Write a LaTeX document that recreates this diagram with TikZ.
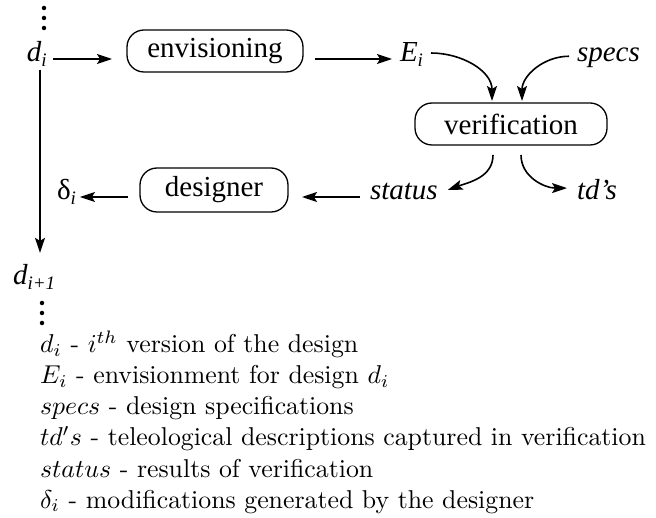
\documentclass[tikz,border=0pt]{standalone}
\usepackage{fontspec}
\newfontfamily\tms{Liberation Serif}
\usetikzlibrary{arrows.meta}
\newcommand{\tsub}[1]{\raisebox{-5pt}{\fontsize{19}{19}\selectfont\itshape #1}}
\newcommand{\lgd}[1]{\scalebox{2.58}{#1}}
\begin{document}
\begin{tikzpicture}[x=1pt,y=1pt,
  every node/.style={inner sep=0pt, outer sep=0pt},
  top/.style={font=\tms\fontsize{29}{32}\selectfont},
  topit/.style={font=\tms\itshape\fontsize{29}{32}\selectfont},
  procbox/.style={draw, line width=1.3pt, rounded corners=17pt, font=\tms\fontsize{29}{32}\selectfont, minimum height=42pt},
  arr/.style={line width=1.6pt, -{Stealth[length=15pt,width=10pt,inset=3pt]}},
  dotnode/.style={circle, fill=black, minimum size=4.5pt},
  legend/.style={anchor=base west}
]
\useasboundingbox (0,0) rectangle (656,-518);

% helper levels
\coordinate (rowA) at (0,-59);
\coordinate (rowB) at (0,-197);
\coordinate (vx) at (40,0);

% top dots
\node[dotnode] (t1) at (44,-8) {};
\node[dotnode] (t2) at (44,-18) {};
\node[dotnode] (t3) at (44,-28) {};

\node[topit, anchor=base west] (di) at (27,-62) {d\tsub{i}};
\node[procbox, minimum width=176pt] (env) at (215,-51) {envisioning};
\node[topit, anchor=base west] (Ei) at (400,-62) {E\tsub{i}};
\node[topit, anchor=base west] (specs) at (577,-62) {specs};
\node[procbox, minimum width=192pt] (ver) at (511,-124) {verification};
\node[topit, anchor=base west] (status) at (370,-200) {status};
\node[topit, anchor=base west] (tds) at (577,-200) {td’s};
\node[procbox, minimum width=148pt, minimum height=44pt] (des) at (214,-190) {designer};
\node[top, anchor=base west] (delta) at (57,-200) {δ\tsub{i}};
\node[topit, anchor=base west] (dnext) at (13,-285) {d\tsub{i+1}};

% bottom dots
\node[dotnode] (b1) at (42,-303) {};
\node[dotnode] (b2) at (42,-313) {};
\node[dotnode] (b3) at (42,-323) {};

% connectors
\draw[arr] ([xshift=6pt]di.east |- rowA) -- ([xshift=-15pt]env.west |- rowA);
\draw[arr] ([xshift=12pt]env.east |- rowA) -- ([xshift=-8pt]Ei.west |- rowA);
\draw[arr] ([xshift=8pt,yshift=2pt]Ei.east) to[out=0,in=90] ([xshift=-19pt,yshift=2pt]ver.north);
\draw[arr] ([xshift=-8pt,yshift=2pt]specs.west) to[out=180,in=90] ([xshift=11pt,yshift=2pt]ver.north);
\draw[arr] ([xshift=-18pt,yshift=-10pt]ver.south) to[out=-90,in=20] ([xshift=10pt,yshift=2pt]status.east);
\draw[arr] ([xshift=10pt,yshift=-10pt]ver.south) to[out=-90,in=180] ([xshift=-10pt,yshift=2pt]tds.west);
\draw[arr] ([xshift=-10pt]status.west |- rowB) -- ([xshift=14pt]des.east |- rowB);
\draw[arr] ([xshift=-12pt]des.west |- rowB) -- ([xshift=4pt]delta.east |- rowB);
\draw[arr] ([yshift=-3pt]di.south -| vx) -- ([yshift=12pt]dnext.north -| vx);

% legend
\node[legend] (l1) at (40,-353) {\lgd{$d_i$ - $i^{th}$ version of the design}};
\node[legend] (l2) at (40,-384) {\lgd{$E_i$ - envisionment for design $d_i$}};
\node[legend] (l3) at (40,-415) {\lgd{$specs$ - design specifications}};
\node[legend] (l4) at (40,-446) {\lgd{$td's$ - teleological descriptions captured in verification}};
\node[legend] (l5) at (40,-477) {\lgd{$status$ - results of verification}};
\node[legend] (l6) at (40,-508) {\lgd{$\delta_i$ - modifications generated by the designer}};
\end{tikzpicture}
\end{document}
